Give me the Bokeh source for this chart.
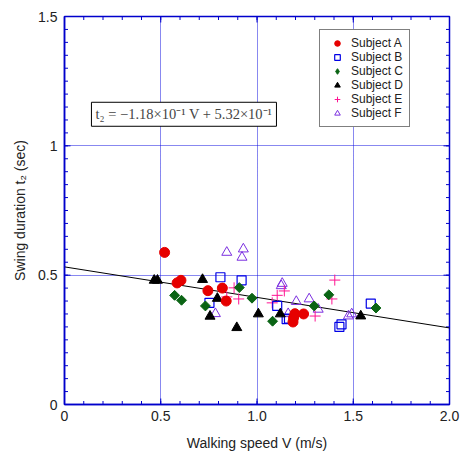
from bokeh.plotting import figure
from bokeh.models import FixedTicker, Legend, LegendItem, Label, Range1d
from bokeh.embed import file_html
from bokeh.resources import INLINE

# ---- data ----
a_x = [0.52, 0.585, 0.605, 0.745, 0.82, 0.84, 1.187, 1.19, 1.197, 1.242]
a_y = [0.588, 0.47, 0.48, 0.44, 0.45, 0.40, 0.319, 0.335, 0.351, 0.35]

b_x = [0.753, 0.81, 0.92, 1.105, 1.154, 1.166, 1.428, 1.439, 1.591]
b_y = [0.393, 0.492, 0.48, 0.381, 0.33, 0.332, 0.30, 0.31, 0.39]

c_x = [0.572, 0.608, 0.732, 0.908, 0.974, 1.081, 1.297, 1.373, 1.618]
c_y = [0.422, 0.403, 0.381, 0.452, 0.411, 0.322, 0.381, 0.424, 0.373]

d_x = [0.466, 0.483, 0.717, 0.756, 0.794, 0.895, 1.007, 1.121, 1.539]
d_y = [0.48, 0.48, 0.483, 0.341, 0.41, 0.297, 0.35, 0.35, 0.342]

e_x = [0.843, 0.881, 0.905, 1.079, 1.105, 1.142, 1.302, 1.389, 1.404]
e_y = [0.416, 0.451, 0.408, 0.393, 0.422, 0.439, 0.342, 0.408, 0.481]

f_x = [0.784, 0.843, 0.922, 0.929, 1.126, 1.131, 1.162, 1.204, 1.271, 1.318, 1.475, 1.492]
f_y = [0.351, 0.588, 0.569, 0.601, 0.459, 0.468, 0.351, 0.398, 0.408, 0.368, 0.342, 0.35]

slope = -0.118
intercept = 0.532
fit_x = [0.0, 2.0]

x_ticks = [0, 0.5, 1.0, 1.5, 2.0]
x_tick_labels = ["0", "0.5", "1.0", "1.5", "2.0"]
y_ticks = [0, 0.5, 1.0, 1.5]
y_tick_labels = ["0", "0.5", "1", "1.5"]
x_minor = [i / 10 for i in range(0, 21)]
y_minor = [i / 20 for i in range(0, 31)]

X0, X1 = 0.0, 2.0
Y0, Y1 = 0.0, 1.5

FONT = "Liberation Sans"
AXC = "#0000CC"

W, H = 468, 462
BL, BR, BT, BB = 64, 19, 16, 58

p = figure(width=W, height=H, output_backend="svg", toolbar_location=None,
           x_range=Range1d(X0, X1), y_range=Range1d(Y0, Y1),
           min_border_left=BL, min_border_right=BR, min_border_top=BT,
           min_border_bottom=BB)
p.background_fill_color = "white"
p.border_fill_color = "white"
p.outline_line_color = AXC
p.outline_line_width = 1.5

# axes: labels only, ticks are drawn inside the frame below
for ax, ticks, minor, labels in ((p.xaxis[0], x_ticks, x_minor, x_tick_labels),
                                 (p.yaxis[0], y_ticks, y_minor, y_tick_labels)):
    ax.ticker = FixedTicker(ticks=ticks, minor_ticks=minor)
    ax.axis_line_color = AXC
    ax.axis_line_width = 1.5
    ax.major_tick_in = 0
    ax.major_tick_out = 0
    ax.minor_tick_in = 0
    ax.minor_tick_out = 0
    ax.major_label_overrides = {t: l for t, l in zip(ticks, labels)}
    ax.major_label_text_font = FONT
    ax.major_label_text_font_size = "14px"
    ax.major_label_text_color = "#222222"
    ax.axis_label_text_font = FONT
    ax.axis_label_text_font_size = "14px"
    ax.axis_label_text_font_style = "normal"
    ax.axis_label_text_color = "#222222"

xa = p.xaxis[0]
ya = p.yaxis[0]
xa.axis_label = "Walking speed V (m/s)"
ya.axis_label = "Swing duration t\u2082 (sec)"
xa.major_label_standoff = 6
xa.axis_label_standoff = 11
ya.major_label_standoff = 7
ya.axis_label_standoff = 7

# inward tick marks on all four sides (lengths in pixels converted to data)
px_x = (X1 - X0) / (W - BL - BR)
px_y = (Y1 - Y0) / (H - BT - BB)
MAJ, MIN = 6, 3.5


def ticks_x(vals, length):
    n = len(vals)
    p.segment(x0=vals, y0=[Y0] * n, x1=vals, y1=[Y0 + length * px_y] * n,
              line_color=AXC, line_width=1)
    p.segment(x0=vals, y0=[Y1] * n, x1=vals, y1=[Y1 - length * px_y] * n,
              line_color=AXC, line_width=1)


def ticks_y(vals, length):
    n = len(vals)
    p.segment(x0=[X0] * n, y0=vals, x1=[X0 + length * px_x] * n, y1=vals,
              line_color=AXC, line_width=1)
    p.segment(x0=[X1] * n, y0=vals, x1=[X1 - length * px_x] * n, y1=vals,
              line_color=AXC, line_width=1)


ticks_x(x_minor, MIN)
ticks_x(x_ticks, MAJ)
ticks_y(y_minor, MIN)
ticks_y(y_ticks, MAJ)

p.xgrid.ticker = FixedTicker(ticks=[0.5, 1.0, 1.5])
p.ygrid.ticker = FixedTicker(ticks=[0.5, 1.0])
for g in (p.xgrid[0], p.ygrid[0]):
    g.grid_line_color = "#1010E0"
    g.grid_line_dash = "1 1"
    g.grid_line_width = 1

# regression line
fit_y = [intercept + slope * x for x in fit_x]
p.line(fit_x, fit_y, line_color="black", line_width=1)

rf = p.scatter(f_x, f_y, marker="triangle", size=10, fill_color=None,
               line_color="#7B2FE0", line_width=1)
re = p.scatter(e_x, e_y, marker="cross", size=11, line_color="#FF1493",
               line_width=1)
rb = p.scatter(b_x, b_y, marker="square", size=9, fill_color=None,
               line_color="#0000E6", line_width=1.2)
rd = p.scatter(d_x, d_y, marker="triangle", size=10, fill_color="black",
               line_color="black")
# diamond glyph (hidden beneath the first point) so the legend shows a diamond
rc_leg = p.scatter(c_x[:1], c_y[:1], marker="diamond", size=9,
                   fill_color="#0A6414", line_color="#0A6414")
rc = p.scatter(c_x, c_y, marker="square", angle=0.785398, size=7,
               fill_color="#0A6414", line_color="#0A6414")
ra = p.scatter(a_x, a_y, marker="circle", size=10, fill_color="#E60000",
               line_color="#E60000")

legend = Legend(items=[
    LegendItem(label="Subject A", renderers=[ra]),
    LegendItem(label="Subject B", renderers=[rb]),
    LegendItem(label="Subject C", renderers=[rc_leg]),
    LegendItem(label="Subject D", renderers=[rd]),
    LegendItem(label="Subject E", renderers=[re]),
    LegendItem(label="Subject F", renderers=[rf]),
], location=(255, 277))
legend.label_text_font = FONT
legend.label_text_font_size = "12px"
legend.label_text_color = "#222222"
legend.label_height = 14
legend.glyph_height = 14
legend.glyph_width = 22
legend.spacing = 0
legend.padding = 6
legend.margin = 0
legend.label_standoff = 3
legend.border_line_color = "black"
legend.border_line_width = 1
legend.background_fill_alpha = 1
p.add_layout(legend, "center")

eq = Label(x=0.14, y=1.122, x_units="data", y_units="data",
           text="t\u2082 = \u22121.18\u00d710\u207b\u00b9 V + 5.32\u00d710\u207b\u00b9",
           text_font="Liberation Serif", text_font_size="14.5px",
           text_baseline="middle", text_align="left",
           border_line_color="black", border_line_width=1,
           background_fill_color="white", padding=4)
p.add_layout(eq)

open("out.html", "w").write(file_html(p, INLINE))
